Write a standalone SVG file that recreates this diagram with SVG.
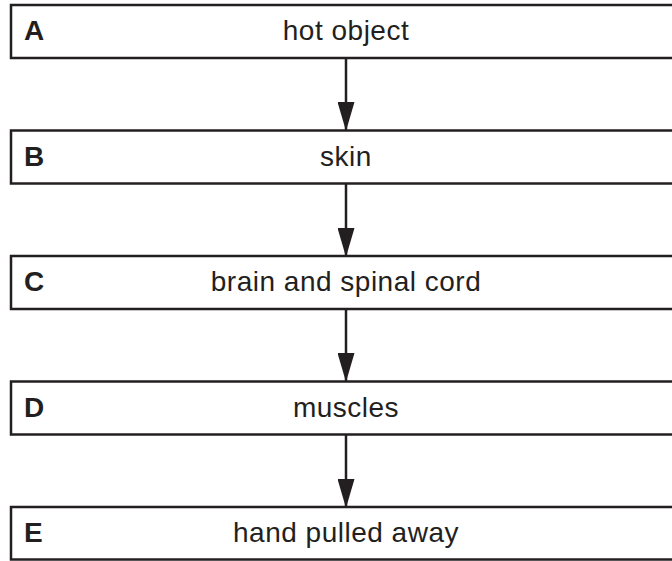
<svg xmlns="http://www.w3.org/2000/svg" width="672" height="561" viewBox="0 0 672 561">
<style>
.box{fill:#fff;stroke:#231f20;stroke-width:2.5}
.lbl{font-family:"Liberation Sans",Arial,sans-serif;font-weight:bold;font-size:28px;fill:#231f20}
.txt{font-family:"Liberation Sans",Arial,sans-serif;font-size:28px;letter-spacing:0.5px;fill:#231f20;text-anchor:middle}
.conn{stroke:#231f20;stroke-width:2.5;fill:none}
</style>
<defs>
<marker id="ah" markerUnits="userSpaceOnUse" markerWidth="29" markerHeight="17" refX="28" refY="8.5" viewBox="0 0 29 17" orient="auto">
<path d="M0,0 L29,8.5 L0,17 Z" fill="#231f20"/>
</marker>
</defs>
<g id="connectors">
<line class="conn" x1="346" y1="58" x2="346" y2="130" marker-end="url(#ah)"/>
<line class="conn" x1="346" y1="184" x2="346" y2="256" marker-end="url(#ah)"/>
<line class="conn" x1="346" y1="309" x2="346" y2="381" marker-end="url(#ah)"/>
<line class="conn" x1="346" y1="435" x2="346" y2="507" marker-end="url(#ah)"/>
</g>
<g id="nodeA"><rect class="box" x="11" y="5" width="680" height="53"/><text class="lbl" x="24" y="40">A</text><text class="txt" x="346" y="40">hot object</text></g>
<g id="nodeB"><rect class="box" x="11" y="130.5" width="680" height="53"/><text class="lbl" x="24" y="166">B</text><text class="txt" x="346" y="166">skin</text></g>
<g id="nodeC"><rect class="box" x="11" y="256" width="680" height="53"/><text class="lbl" x="24" y="291">C</text><text class="txt" x="346" y="291">brain and spinal cord</text></g>
<g id="nodeD"><rect class="box" x="11" y="381.5" width="680" height="53"/><text class="lbl" x="24" y="417">D</text><text class="txt" x="346" y="417">muscles</text></g>
<g id="nodeE"><rect class="box" x="11" y="507" width="680" height="52.5"/><text class="lbl" x="24" y="542">E</text><text class="txt" x="346" y="542">hand pulled away</text></g>
</svg>
